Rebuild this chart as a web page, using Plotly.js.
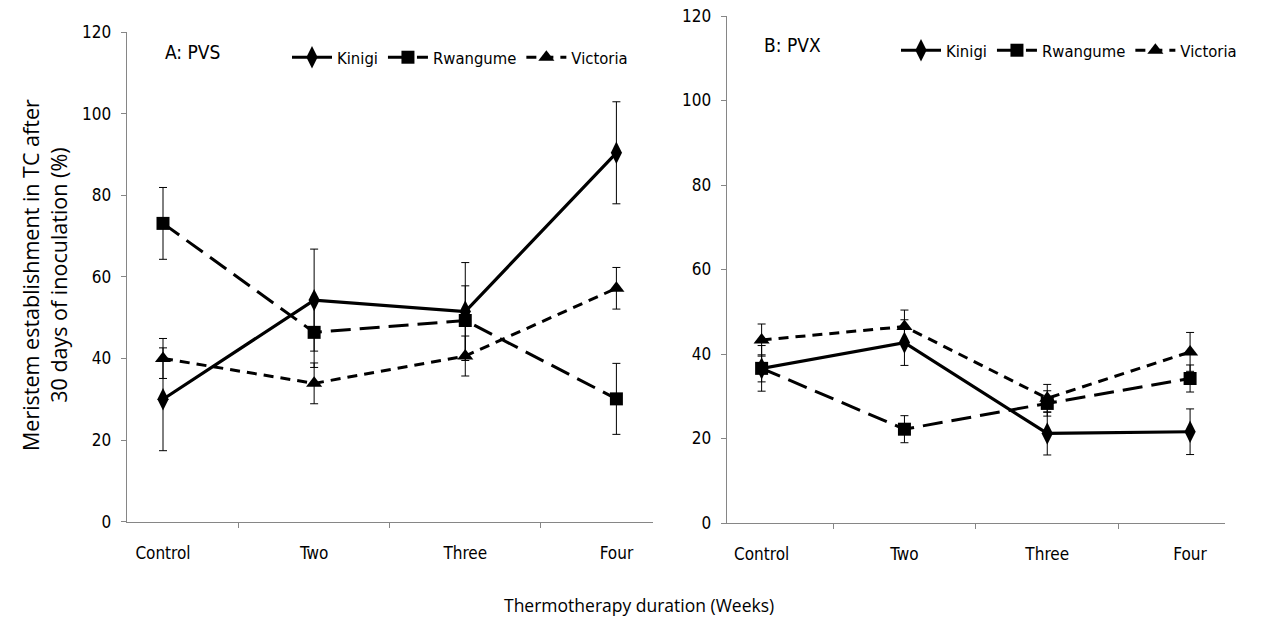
<!DOCTYPE html>
<html>
<head>
<meta charset="utf-8">
<script src="https://cdn.plot.ly/plotly-3.0.1.min.js"></script>
<style>html,body{margin:0;padding:0;background:#fff;}#chart{width:1276px;height:619px;}</style>
</head>
<body>
<div id="chart"></div>
<script>
// ---- Data ----
var categories = ['Control', 'Two', 'Three', 'Four'];
var seriesNames = ['Kinigi', 'Rwangume', 'Victoria'];

// Panel A: PVS
var pvsKinigi      = [30.0, 54.3, 51.5, 90.4];
var pvsKinigiErr   = [12.6, 12.5, 12.0, 12.5];
var pvsRwangume    = [73.1, 46.4, 49.3, 30.1];
var pvsRwangumeErr = [8.8, 8.6, 8.5, 8.7];
var pvsVictoria    = [40.0, 33.9, 40.6, 57.2];
var pvsVictoriaErr = [4.9, 5.0, 4.9, 5.1];

// Panel B: PVX
var pvxKinigi      = [36.6, 42.7, 21.2, 21.6];
var pvxKinigiErr   = [5.4, 5.4, 5.1, 5.4];
var pvxRwangume    = [36.6, 22.2, 28.3, 34.2];
var pvxRwangumeErr = [3.2, 3.2, 3.0, 3.2];
var pvxVictoria    = [43.3, 46.5, 29.5, 40.5];
var pvxVictoriaErr = [3.8, 3.9, 3.3, 4.6];

var yTicks = [0, 20, 40, 60, 80, 100, 120];

// ---- Styles ----
var styles = [
  {dash: 'solid', symbol: 'diamond-tall', size: 16, width: 3.2},
  {dash: '20px,9px', symbol: 'square', size: 13, width: 3},
  {dash: '10px,7px', symbol: 'triangle-up', size: 14, width: 3}
];

function mk(name, x, y, err, st, xa, ya, leg) {
  return {
    type: 'scatter', mode: 'lines+markers', name: name, x: x, y: y,
    xaxis: xa, yaxis: ya, legend: leg,
    line: {color: '#000', width: st.width, dash: st.dash},
    marker: {color: '#000', symbol: st.symbol, size: st.size},
    error_y: {type: 'data', array: err, visible: true, color: '#000', thickness: 1, width: 4},
    cliponaxis: false
  };
}

var pvs = [[pvsKinigi, pvsKinigiErr], [pvsRwangume, pvsRwangumeErr], [pvsVictoria, pvsVictoriaErr]];
var pvx = [[pvxKinigi, pvxKinigiErr], [pvxRwangume, pvxRwangumeErr], [pvxVictoria, pvxVictoriaErr]];
var traces = [];
for (var i = 0; i < 3; i++) traces.push(mk(seriesNames[i], categories, pvs[i][0], pvs[i][1], styles[i], 'x', 'y', 'legend'));
for (var j = 0; j < 3; j++) traces.push(mk(seriesNames[j], categories, pvx[j][0], pvx[j][1], styles[j], 'x2', 'y2', 'legend2'));

var narrow = '"DejaVu Sans Condensed", "Liberation Sans Narrow", sans-serif';
var tickFont = {family: narrow, size: 17, color: '#000'};
var axColor = '#868686';

function xAxis(domain, anchor) {
  return {
    domain: domain, anchor: anchor, type: 'category',
    showline: true, linecolor: axColor, linewidth: 1,
    ticks: 'outside', tickson: 'boundaries', ticklen: 5, tickcolor: axColor,
    ticklabelstandoff: 16,
    showgrid: false, zeroline: false, tickfont: tickFont, fixedrange: true
  };
}
function yAxis(domain, anchor) {
  return {
    domain: domain, anchor: anchor, range: [0, 120], tickvals: yTicks,
    showline: true, linecolor: axColor, linewidth: 1,
    ticks: 'outside', ticklen: 5, tickcolor: axColor, ticklabelstandoff: 6,
    showgrid: false, zeroline: false, tickfont: tickFont, fixedrange: true
  };
}

var legendFont = {family: narrow, size: 16.5, color: '#000'};

var layout = {
  width: 1276, height: 619,
  margin: {l: 0, r: 0, t: 0, b: 0},
  paper_bgcolor: '#fff', plot_bgcolor: '#fff',
  showlegend: true,
  xaxis: xAxis([126.7/1276, 652.7/1276], 'y'),
  yaxis: yAxis([1 - 521.7/619, 1 - 32/619], 'x'),
  xaxis2: xAxis([726.7/1276, 1225/1276], 'y2'),
  yaxis2: yAxis([1 - 523/619, 1 - 16/619], 'x2'),
  legend: {
    orientation: 'h', x: 287/1276, y: 1 - 40/619, xanchor: 'left', yanchor: 'top',
    font: legendFont, bgcolor: 'rgba(0,0,0,0)', itemwidth: 40, tracegroupgap: 0
  },
  legend2: {
    orientation: 'h', x: 896/1276, y: 1 - 33/619, xanchor: 'left', yanchor: 'top',
    font: legendFont, bgcolor: 'rgba(0,0,0,0)', itemwidth: 40, tracegroupgap: 0
  },
  annotations: [
    {text: 'A: PVS', xref: 'paper', yref: 'paper', x: 163/1276, y: 1 - 52/619, xanchor: 'left', yanchor: 'middle',
     showarrow: false, font: {family: narrow, size: 19, color: '#000'}},
    {text: 'B: PVX', xref: 'paper', yref: 'paper', x: 762/1276, y: 1 - 45/619, xanchor: 'left', yanchor: 'middle',
     showarrow: false, font: {family: narrow, size: 19, color: '#000'}},
    {text: 'Meristem establishment in TC after<br>30 days of inoculation (%)', xref: 'paper', yref: 'paper',
     x: 44/1276, y: 1 - 275/619, xanchor: 'center', yanchor: 'middle', textangle: -90, showarrow: false,
     font: {family: '"Open Sans", sans-serif', size: 21.5, color: '#000'}},
    {text: 'Thermotherapy duration (Weeks)', xref: 'paper', yref: 'paper',
     x: 639/1276, y: 1 - 605/619, xanchor: 'center', yanchor: 'middle', showarrow: false,
     font: {family: '"Open Sans", sans-serif', size: 17.5, color: '#000'}}
  ]
};

Plotly.newPlot('chart', traces, layout, {displayModeBar: false, staticPlot: true});
</script>
</body>
</html>
